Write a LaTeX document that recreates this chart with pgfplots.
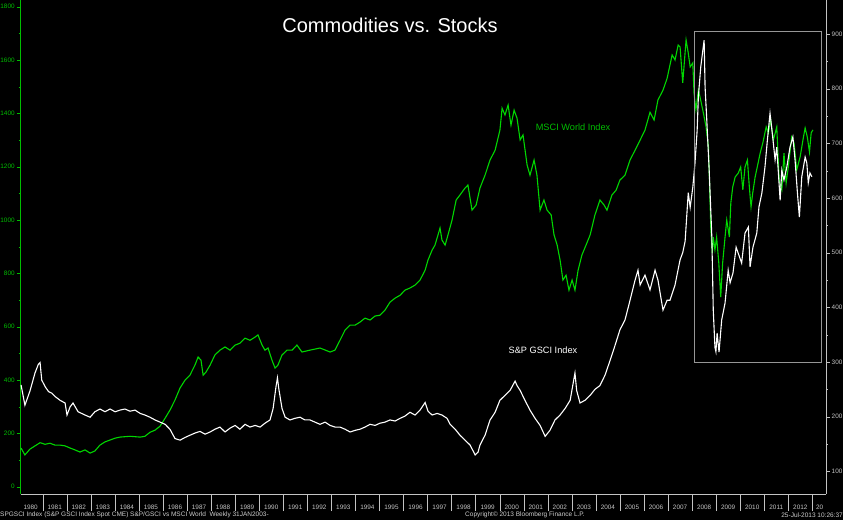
\documentclass[border=0pt]{standalone}
\usepackage{fontspec}
\setmainfont{Liberation Sans}
\usepackage{pgfplots}
\pgfplotsset{compat=1.18}

\definecolor{msci}{RGB}{0,215,0}
\definecolor{axgreen}{RGB}{0,190,0}
\definecolor{bbgrey}{RGB}{195,195,195}
\definecolor{boxgrey}{RGB}{150,150,150}
\definecolor{footer}{RGB}{205,205,205}

\pgfplotsset{
  base/.style={
    scale only axis, width=805pt, height=494pt,
    at={(20.7pt,26pt)}, anchor=south west,
    xmin=1980.085, xmax=2013.555,
    tick align=outside,
    /pgf/number format/1000 sep={},
    /pgf/number format/assume math mode=true,
  },
  small/.style={font=\fontsize{6.4}{7}\selectfont},
}

\begin{document}
\begin{tikzpicture}[x=1pt,y=1pt]
\path[use as bounding box] (0,0) rectangle (843,520);
\fill[black] (0,0) rectangle (843,520);

% year axis: separators and labels
\begin{axis}[base,
    ymin=0, ymax=1, ytick=\empty, axis y line=none,
    axis x line*=bottom, x axis line style={draw=bbgrey,-},
    xtick={1980.5,1981.5,1982.5,1983.5,1984.5,1985.5,1986.5,1987.5,1988.5,1989.5,
           1990.5,1991.5,1992.5,1993.5,1994.5,1995.5,1996.5,1997.5,1998.5,1999.5,
           2000.5,2001.5,2002.5,2003.5,2004.5,2005.5,2006.5,2007.5,2008.5,2009.5,
           2010.5,2011.5,2012.5,2013.3},
    xticklabels={1980,1981,1982,1983,1984,1985,1986,1987,1988,1989,
                 1990,1991,1992,1993,1994,1995,1996,1997,1998,1999,
                 2000,2001,2002,2003,2004,2005,2006,2007,2008,2009,
                 2010,2011,2012,20},
    major tick length=0pt,
    minor xtick={1981,1982,...,2013},
    minor tick length=17pt,
    tick style={draw=bbgrey},
    xticklabel style={small, text=bbgrey, anchor=center, yshift=-13pt},
]
\end{axis}

% MSCI World, left axis
\begin{axis}[base,
    ymin=-27.4, ymax=1825,
    axis x line=none, xtick=\empty,
    axis y line*=left, y axis line style={draw=axgreen,-},
    ytick={0,200,...,1800}, minor y tick num=1,
    major tick length=4pt, minor tick length=2pt,
    tick style={draw=axgreen},
    yticklabel style={small, text=axgreen, xshift=1.5pt},
]
\addplot[msci, line width=1.1pt] coordinates {
(1980.10,145) (1980.26,119) (1980.47,141) (1980.68,153) (1980.89,165)
(1981.10,159) (1981.30,163) (1981.51,156) (1981.72,156) (1981.93,153)
(1982.14,145) (1982.34,138) (1982.55,130) (1982.76,138) (1982.97,126)
(1983.17,134) (1983.38,156) (1983.59,168) (1983.80,175) (1984.01,182)
(1984.21,186) (1984.63,189) (1985.05,186) (1985.25,189) (1985.46,204)
(1985.67,212) (1985.88,227) (1986.09,257) (1986.29,287) (1986.50,325)
(1986.71,370) (1986.92,400) (1987.12,418) (1987.33,456) (1987.46,486)
(1987.58,475) (1987.67,418) (1987.79,430) (1987.96,456) (1988.16,494)
(1988.37,512) (1988.58,524) (1988.79,512) (1989.00,531) (1989.20,538)
(1989.41,557) (1989.62,549) (1989.83,561) (1989.95,569) (1990.12,531)
(1990.24,512) (1990.37,520) (1990.53,475) (1990.66,445) (1990.78,456)
(1990.95,494) (1991.16,512) (1991.37,512) (1991.57,531) (1991.78,505)
(1992.11,512) (1992.53,520) (1992.95,505) (1993.15,512) (1993.36,549)
(1993.57,587) (1993.78,606) (1993.99,606) (1994.19,617) (1994.40,632)
(1994.61,625) (1994.82,640) (1995.02,643) (1995.23,662) (1995.44,692)
(1995.65,707) (1995.86,718) (1996.06,737) (1996.27,745) (1996.48,756)
(1996.69,775) (1996.90,812) (1997.02,850) (1997.19,887) (1997.31,906)
(1997.52,970) (1997.60,925) (1997.73,906) (1997.85,944) (1998.02,1000)
(1998.19,1075) (1998.35,1094) (1998.56,1120) (1998.68,1131) (1998.85,1037)
(1999.02,1056) (1999.18,1120) (1999.39,1168) (1999.60,1225) (1999.81,1262)
(2000.01,1337) (2000.10,1419) (2000.22,1394) (2000.35,1431) (2000.47,1356)
(2000.60,1412) (2000.72,1382) (2000.85,1300) (2000.97,1319) (2001.14,1206)
(2001.26,1168) (2001.43,1225) (2001.55,1168) (2001.68,1037) (2001.84,1075)
(2001.97,1037) (2002.14,1019) (2002.26,944) (2002.39,906) (2002.51,850)
(2002.63,775) (2002.76,793) (2002.88,737) (2003.01,775) (2003.13,737)
(2003.26,812) (2003.42,869) (2003.59,906) (2003.76,944) (2003.96,1019)
(2004.17,1075) (2004.34,1056) (2004.46,1037) (2004.67,1094) (2004.84,1112)
(2005.00,1150) (2005.21,1168) (2005.42,1225) (2005.63,1262) (2005.84,1300)
(2006.04,1337) (2006.25,1404) (2006.42,1375) (2006.58,1450) (2006.79,1487)
(2006.96,1531) (2007.17,1619) (2007.29,1600) (2007.42,1656) (2007.50,1649)
(2007.61,1514) (2007.75,1675) (2007.84,1626) (2007.92,1574) (2008.03,1589)
(2008.08,1476) (2008.16,1413) (2008.26,1488) (2008.33,1461) (2008.47,1401)
(2008.58,1349) (2008.68,1274) (2008.78,963) (2008.84,876) (2008.88,936)
(2008.95,888) (2009.02,936) (2009.11,839) (2009.19,711) (2009.27,839)
(2009.37,936) (2009.44,1000) (2009.55,936) (2009.61,1064) (2009.69,1124)
(2009.79,1161) (2009.92,1176) (2010.02,1199) (2010.11,1113) (2010.20,1199)
(2010.30,1225) (2010.38,1124) (2010.45,1049) (2010.52,1101) (2010.62,1161)
(2010.71,1199) (2010.83,1251) (2010.94,1289) (2011.08,1349) (2011.17,1326)
(2011.27,1375) (2011.38,1300) (2011.52,1349) (2011.62,1150) (2011.73,1113)
(2011.82,1251) (2011.91,1139) (2012.00,1199) (2012.14,1311) (2012.24,1289)
(2012.35,1188) (2012.49,1236) (2012.63,1311) (2012.70,1345) (2012.79,1311)
(2012.88,1255) (2012.95,1326) (2013.02,1338)
};
\node[text=axgreen, font=\fontsize{9.2}{11}\selectfont] at (axis cs:2003.05,1349) {MSCI World Index};
\end{axis}

% S&P GSCI, right axis
\begin{axis}[base,
    ymin=58.5, ymax=962.4,
    axis x line=none, xtick=\empty,
    axis y line*=right, y axis line style={draw=bbgrey,-},
    ytick={100,200,...,900}, minor y tick num=1,
    major tick length=4pt, minor tick length=2pt,
    tick style={draw=bbgrey},
    yticklabel style={small, text=bbgrey, xshift=-1.5pt},
]
\addplot[white, line width=1.1pt] coordinates {
(1980.10,258) (1980.26,221) (1980.47,247) (1980.68,280) (1980.82,296)
(1980.89,299) (1980.96,267) (1981.10,255) (1981.24,246) (1981.38,243)
(1981.51,237) (1981.72,230) (1981.93,225) (1982.01,203) (1982.14,218)
(1982.26,225) (1982.47,209) (1982.76,203) (1982.97,199) (1983.17,209)
(1983.38,214) (1983.59,209) (1983.80,214) (1984.01,209) (1984.21,212)
(1984.42,214) (1984.63,210) (1984.84,212) (1985.05,206) (1985.25,203)
(1985.46,199) (1985.67,194) (1985.88,190) (1986.09,186) (1986.29,177)
(1986.50,160) (1986.71,157) (1986.92,162) (1987.12,166) (1987.33,170)
(1987.54,173) (1987.75,168) (1987.96,172) (1988.16,177) (1988.37,181)
(1988.58,172) (1988.79,179) (1989.00,184) (1989.20,177) (1989.41,186)
(1989.62,181) (1989.83,184) (1990.04,181) (1990.24,188) (1990.45,194)
(1990.58,215) (1990.70,255) (1990.76,271) (1990.82,250) (1990.95,215)
(1991.08,199) (1991.28,194) (1991.49,197) (1991.70,199) (1991.90,194)
(1992.11,194) (1992.32,190) (1992.53,186) (1992.74,190) (1992.95,184)
(1993.15,181) (1993.36,181) (1993.57,177) (1993.78,172) (1993.99,175)
(1994.19,177) (1994.40,181) (1994.61,186) (1994.82,184) (1995.02,188)
(1995.23,190) (1995.44,194) (1995.65,192) (1995.86,197) (1996.06,201)
(1996.27,208) (1996.48,203) (1996.69,212) (1996.90,226) (1997.02,210)
(1997.19,203) (1997.40,206) (1997.60,203) (1997.81,197) (1997.94,186)
(1998.15,177) (1998.35,166) (1998.56,157) (1998.77,148) (1998.98,130)
(1999.10,135) (1999.18,148) (1999.39,166) (1999.60,194) (1999.81,208)
(2000.01,230) (2000.22,239) (2000.43,248) (2000.64,265) (2000.72,257)
(2000.85,248) (2001.05,230) (2001.26,212) (2001.47,197) (2001.68,184)
(2001.89,164) (2002.09,175) (2002.30,194) (2002.51,203) (2002.72,215)
(2002.93,230) (2003.13,280) (2003.20,248) (2003.34,225) (2003.55,230)
(2003.76,239) (2003.96,250) (2004.17,257) (2004.38,276) (2004.59,303)
(2004.80,331) (2005.00,359) (2005.21,377) (2005.42,413) (2005.63,450)
(2005.75,468) (2005.84,441) (2006.04,459) (2006.25,432) (2006.46,468)
(2006.58,450) (2006.79,395) (2006.96,413) (2007.08,413) (2007.29,441)
(2007.50,487) (2007.61,500) (2007.71,521) (2007.84,610) (2007.92,583)
(2008.03,620) (2008.12,664) (2008.21,724) (2008.26,785) (2008.36,840)
(2008.50,889) (2008.54,803) (2008.61,743) (2008.71,651) (2008.82,529)
(2008.88,395) (2008.95,327) (2008.99,319) (2009.04,353) (2009.12,318)
(2009.23,377) (2009.37,408) (2009.50,468) (2009.58,445) (2009.70,463)
(2009.83,510) (2009.91,500) (2010.06,481) (2010.20,536) (2010.34,547)
(2010.41,474) (2010.53,510) (2010.69,536) (2010.78,584) (2010.90,609)
(2011.03,657) (2011.13,706) (2011.24,755) (2011.35,712) (2011.45,670)
(2011.52,693) (2011.66,596) (2011.73,651) (2011.82,633) (2011.94,657)
(2012.07,693) (2012.19,712) (2012.28,670) (2012.38,609) (2012.46,565)
(2012.56,639) (2012.70,675) (2012.77,664) (2012.83,628) (2012.90,646)
(2012.98,639)
};
\draw[boxgrey, line width=0.9pt] (axis cs:2008.09,300) rectangle (axis cs:2013.36,905.7);
\node[text=white, font=\fontsize{9.2}{11}\selectfont] at (axis cs:2001.80,322) {S\&P GSCI Index};
\end{axis}

\node[text=white, font=\fontsize{20}{24}\selectfont] at (390,495) {Commodities vs. Stocks};
\node[text=footer, font=\fontsize{6.5}{7}\selectfont, anchor=west, inner sep=0pt] at (0,5) {SPGSCI Index (S\&P GSCI Index Spot CME) S\&P/GSCI vs MSCI World\ \ Weekly 31JAN2003-};
\node[text=footer, font=\fontsize{6.5}{7}\selectfont, inner sep=0pt] at (525,5) {Copyright© 2013 Bloomberg Finance L.P.};
\node[text=footer, font=\fontsize{6.5}{7}\selectfont, anchor=east, inner sep=0pt] at (843,5) {25-Jul-2013 10:26:37};
\end{tikzpicture}
\end{document}
